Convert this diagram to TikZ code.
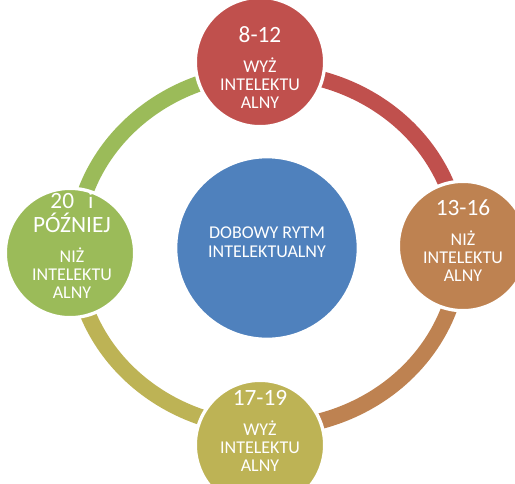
\documentclass[tikz,border=0pt]{standalone}
\usepackage{fontspec}
\setmainfont{Carlito}
\definecolor{cRed}{HTML}{C0504D}
\definecolor{cBrown}{HTML}{BE8251}
\definecolor{cOlive}{HTML}{BDB355}
\definecolor{cGreen}{HTML}{9BBB59}
\definecolor{cBlue}{HTML}{4F81BD}
\newcommand\bigtxt{\fontsize{17.5}{17.5}\selectfont}
\newcommand\smalltxt{\fontsize{13.5}{13.5}\selectfont}
\lineskiplimit=-50pt
\begin{document}
\begin{tikzpicture}[x=0.75pt, y=-0.75pt,
  ringarc/.style={line width=12pt, line cap=butt},
  dot/.style={circle, draw=white, line width=2.5pt, minimum size=97pt, inner sep=0pt},
  hub/.style={circle, draw=white, line width=2.5pt, minimum size=137pt, inner sep=0pt, fill=cBlue},
  lbl/.style={text=white, align=center, anchor=north, inner sep=0pt, font=\smalltxt},
]
\useasboundingbox (0,0) rectangle (515,483);
\clip (0,0) rectangle (515,483);

% ring arcs
\coordinate (aT) at (260.8,72.1);
\coordinate (aR) at (460,250);
\coordinate (aB) at (260.8,427.9);
\coordinate (aL) at (75,250);
\draw[ringarc, draw=cRed]   (aT) arc[start angle=-92, end angle=0,   x radius=192.5, y radius=178];
\draw[ringarc, draw=cBrown] (aR) arc[start angle=0,   end angle=92,  x radius=192.5, y radius=178];
\draw[ringarc, draw=cOlive] (aB) arc[start angle=92,  end angle=180, x radius=192.5, y radius=178];
\draw[ringarc, draw=cGreen] (aL) arc[start angle=180, end angle=268, x radius=192.5, y radius=178];

% circles
\node[dot, fill=cRed]   (T) at (260,62)  {};
\node[dot, fill=cBrown] (R) at (463,246) {};
\node[dot, fill=cOlive] (B) at (260,445) {};
\node[dot, fill=cGreen] (L) at (70,253)  {};
\node[hub] (M) at (267,248) {};

% texts
\node[lbl] (Tt) at (260,20.67)  {\rule{0pt}{16pt}{\bigtxt 8-12}\\[9.4pt]WYŻ\\INTELEKTU\\ALNY};
\node[lbl] (Rt) at (463,193.67) {\rule{0pt}{16pt}{\bigtxt 13-16}\\[9.4pt]NIŻ\\INTELEKTU\\ALNY};
\node[lbl] (Bt) at (260,383.67) {\rule{0pt}{16pt}{\bigtxt 17-19}\\[9.4pt]WYŻ\\INTELEKTU\\ALNY};
\node[lbl] (Lt) at (72,186.67)  {\rule{0pt}{16pt}{\bigtxt 20\hspace{10.5pt}i}\\[4.5pt]{\bigtxt PÓŹNIEJ}\\[9.4pt]NIŻ\\INTELEKTU\\ALNY};
\node[lbl] (Mt) at (267,222)    {\rule{0pt}{12pt}DOBOWY RYTM\\[0.75pt]INTELEKTUALNY};
\end{tikzpicture}
\end{document}
